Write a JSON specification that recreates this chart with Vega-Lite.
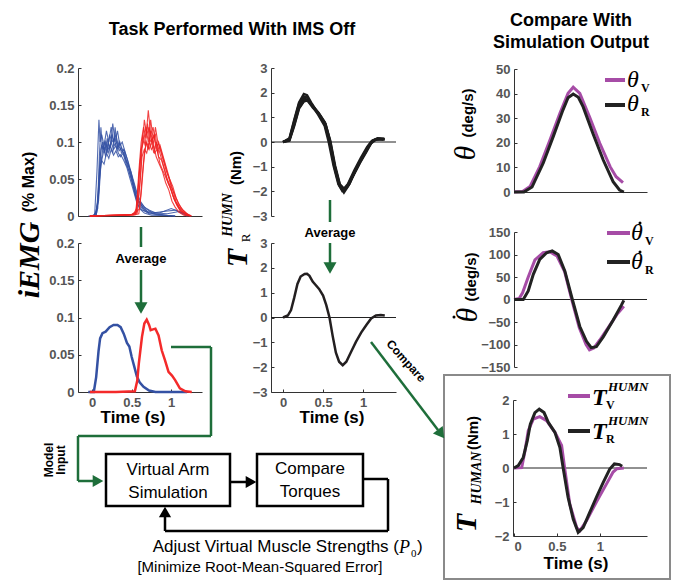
{
"$schema": "https://vega.github.io/schema/vega-lite/v6.json",
"width": 682, "height": 582, "padding": 0, "autosize": "none",
"background": "white",
"config": {"view": {"stroke": null},
  "axis": {"labelFont": "Liberation Sans", "labelFontWeight": "bold", "labelFontSize": 13, "labelColor": "#555555", "domainColor": "#333333", "tickColor": "#333333", "tickSize": -3, "labelPadding": 7, "grid": false},
  "text": {"font": "Liberation Sans"}},
"datasets": {
"emgRaw": [
{"s":"b1","c":"b","t":-0.05,"v":0},{"s":"b1","c":"b","t":0.03,"v":0},{"s":"b1","c":"b","t":0.06,"v":0.06},{"s":"b1","c":"b","t":0.085,"v":0.13},{"s":"b1","c":"b","t":0.1,"v":0.1},{"s":"b1","c":"b","t":0.12,"v":0.11},{"s":"b1","c":"b","t":0.15,"v":0.095},{"s":"b1","c":"b","t":0.18,"v":0.115},{"s":"b1","c":"b","t":0.21,"v":0.1},{"s":"b1","c":"b","t":0.24,"v":0.12},{"s":"b1","c":"b","t":0.27,"v":0.1},{"s":"b1","c":"b","t":0.3,"v":0.11},{"s":"b1","c":"b","t":0.33,"v":0.095},{"s":"b1","c":"b","t":0.36,"v":0.09},{"s":"b1","c":"b","t":0.4,"v":0.085},{"s":"b1","c":"b","t":0.44,"v":0.07},{"s":"b1","c":"b","t":0.48,"v":0.055},{"s":"b1","c":"b","t":0.52,"v":0.04},{"s":"b1","c":"b","t":0.56,"v":0.025},{"s":"b1","c":"b","t":0.6,"v":0.018},{"s":"b1","c":"b","t":0.65,"v":0.01},{"s":"b1","c":"b","t":0.72,"v":0.004},{"s":"b1","c":"b","t":0.85,"v":0.002},{"s":"b1","c":"b","t":1.0,"v":0},
{"s":"b2","c":"b","t":-0.02,"v":0},{"s":"b2","c":"b","t":0.05,"v":0},{"s":"b2","c":"b","t":0.08,"v":0.03},{"s":"b2","c":"b","t":0.1,"v":0.06},{"s":"b2","c":"b","t":0.12,"v":0.075},{"s":"b2","c":"b","t":0.15,"v":0.07},{"s":"b2","c":"b","t":0.18,"v":0.085},{"s":"b2","c":"b","t":0.21,"v":0.078},{"s":"b2","c":"b","t":0.24,"v":0.09},{"s":"b2","c":"b","t":0.27,"v":0.082},{"s":"b2","c":"b","t":0.3,"v":0.088},{"s":"b2","c":"b","t":0.33,"v":0.08},{"s":"b2","c":"b","t":0.36,"v":0.083},{"s":"b2","c":"b","t":0.4,"v":0.075},{"s":"b2","c":"b","t":0.44,"v":0.065},{"s":"b2","c":"b","t":0.48,"v":0.05},{"s":"b2","c":"b","t":0.52,"v":0.035},{"s":"b2","c":"b","t":0.56,"v":0.02},{"s":"b2","c":"b","t":0.6,"v":0.01},{"s":"b2","c":"b","t":0.66,"v":0.004},{"s":"b2","c":"b","t":0.75,"v":0.001},{"s":"b2","c":"b","t":1.05,"v":0},
{"s":"b3","c":"b","t":0.0,"v":0},{"s":"b3","c":"b","t":0.06,"v":0.005},{"s":"b3","c":"b","t":0.09,"v":0.05},{"s":"b3","c":"b","t":0.11,"v":0.09},{"s":"b3","c":"b","t":0.13,"v":0.1},{"s":"b3","c":"b","t":0.16,"v":0.085},{"s":"b3","c":"b","t":0.19,"v":0.105},{"s":"b3","c":"b","t":0.22,"v":0.09},{"s":"b3","c":"b","t":0.25,"v":0.11},{"s":"b3","c":"b","t":0.28,"v":0.095},{"s":"b3","c":"b","t":0.31,"v":0.1},{"s":"b3","c":"b","t":0.34,"v":0.088},{"s":"b3","c":"b","t":0.37,"v":0.092},{"s":"b3","c":"b","t":0.41,"v":0.08},{"s":"b3","c":"b","t":0.45,"v":0.07},{"s":"b3","c":"b","t":0.49,"v":0.06},{"s":"b3","c":"b","t":0.53,"v":0.045},{"s":"b3","c":"b","t":0.57,"v":0.03},{"s":"b3","c":"b","t":0.61,"v":0.02},{"s":"b3","c":"b","t":0.66,"v":0.012},{"s":"b3","c":"b","t":0.72,"v":0.008},{"s":"b3","c":"b","t":0.8,"v":0.004},{"s":"b3","c":"b","t":0.95,"v":0.003},{"s":"b3","c":"b","t":1.1,"v":0.006},{"s":"b3","c":"b","t":1.22,"v":0},
{"s":"b4","c":"b","t":0.02,"v":0},{"s":"b4","c":"b","t":0.07,"v":0.01},{"s":"b4","c":"b","t":0.1,"v":0.065},{"s":"b4","c":"b","t":0.12,"v":0.08},{"s":"b4","c":"b","t":0.14,"v":0.095},{"s":"b4","c":"b","t":0.17,"v":0.08},{"s":"b4","c":"b","t":0.2,"v":0.1},{"s":"b4","c":"b","t":0.23,"v":0.092},{"s":"b4","c":"b","t":0.26,"v":0.125},{"s":"b4","c":"b","t":0.29,"v":0.1},{"s":"b4","c":"b","t":0.32,"v":0.115},{"s":"b4","c":"b","t":0.35,"v":0.095},{"s":"b4","c":"b","t":0.38,"v":0.1},{"s":"b4","c":"b","t":0.42,"v":0.085},{"s":"b4","c":"b","t":0.46,"v":0.07},{"s":"b4","c":"b","t":0.5,"v":0.05},{"s":"b4","c":"b","t":0.54,"v":0.03},{"s":"b4","c":"b","t":0.58,"v":0.015},{"s":"b4","c":"b","t":0.63,"v":0.008},{"s":"b4","c":"b","t":0.7,"v":0.005},{"s":"b4","c":"b","t":0.8,"v":0.003},{"s":"b4","c":"b","t":0.95,"v":0.001},{"s":"b4","c":"b","t":1.05,"v":0},
{"s":"b5","c":"b","t":0.03,"v":0},{"s":"b5","c":"b","t":0.08,"v":0.02},{"s":"b5","c":"b","t":0.11,"v":0.07},{"s":"b5","c":"b","t":0.14,"v":0.085},{"s":"b5","c":"b","t":0.17,"v":0.1},{"s":"b5","c":"b","t":0.2,"v":0.09},{"s":"b5","c":"b","t":0.23,"v":0.095},{"s":"b5","c":"b","t":0.26,"v":0.085},{"s":"b5","c":"b","t":0.29,"v":0.12},{"s":"b5","c":"b","t":0.32,"v":0.09},{"s":"b5","c":"b","t":0.35,"v":0.1},{"s":"b5","c":"b","t":0.38,"v":0.09},{"s":"b5","c":"b","t":0.41,"v":0.088},{"s":"b5","c":"b","t":0.45,"v":0.075},{"s":"b5","c":"b","t":0.49,"v":0.06},{"s":"b5","c":"b","t":0.53,"v":0.04},{"s":"b5","c":"b","t":0.57,"v":0.022},{"s":"b5","c":"b","t":0.61,"v":0.018},{"s":"b5","c":"b","t":0.68,"v":0.01},{"s":"b5","c":"b","t":0.76,"v":0.004},{"s":"b5","c":"b","t":0.9,"v":0.006},{"s":"b5","c":"b","t":1.05,"v":0.008},{"s":"b5","c":"b","t":1.2,"v":0},
{"s":"b6","c":"b","t":0.04,"v":0},{"s":"b6","c":"b","t":0.07,"v":0.02},{"s":"b6","c":"b","t":0.09,"v":0.08},{"s":"b6","c":"b","t":0.11,"v":0.12},{"s":"b6","c":"b","t":0.13,"v":0.09},{"s":"b6","c":"b","t":0.16,"v":0.1},{"s":"b6","c":"b","t":0.19,"v":0.085},{"s":"b6","c":"b","t":0.22,"v":0.11},{"s":"b6","c":"b","t":0.25,"v":0.1},{"s":"b6","c":"b","t":0.28,"v":0.105},{"s":"b6","c":"b","t":0.31,"v":0.09},{"s":"b6","c":"b","t":0.34,"v":0.1},{"s":"b6","c":"b","t":0.37,"v":0.085},{"s":"b6","c":"b","t":0.4,"v":0.09},{"s":"b6","c":"b","t":0.43,"v":0.075},{"s":"b6","c":"b","t":0.47,"v":0.065},{"s":"b6","c":"b","t":0.51,"v":0.05},{"s":"b6","c":"b","t":0.55,"v":0.035},{"s":"b6","c":"b","t":0.59,"v":0.02},{"s":"b6","c":"b","t":0.64,"v":0.012},{"s":"b6","c":"b","t":0.7,"v":0.006},{"s":"b6","c":"b","t":0.85,"v":0.004},{"s":"b6","c":"b","t":1.0,"v":0.01},{"s":"b6","c":"b","t":1.15,"v":0.004},{"s":"b6","c":"b","t":1.25,"v":0},
{"s":"b7","c":"b","t":0.05,"v":0},{"s":"b7","c":"b","t":0.08,"v":0.04},{"s":"b7","c":"b","t":0.1,"v":0.08},{"s":"b7","c":"b","t":0.12,"v":0.095},{"s":"b7","c":"b","t":0.15,"v":0.09},{"s":"b7","c":"b","t":0.18,"v":0.095},{"s":"b7","c":"b","t":0.21,"v":0.085},{"s":"b7","c":"b","t":0.24,"v":0.1},{"s":"b7","c":"b","t":0.27,"v":0.09},{"s":"b7","c":"b","t":0.3,"v":0.095},{"s":"b7","c":"b","t":0.33,"v":0.085},{"s":"b7","c":"b","t":0.36,"v":0.08},{"s":"b7","c":"b","t":0.39,"v":0.085},{"s":"b7","c":"b","t":0.43,"v":0.07},{"s":"b7","c":"b","t":0.47,"v":0.06},{"s":"b7","c":"b","t":0.51,"v":0.045},{"s":"b7","c":"b","t":0.55,"v":0.028},{"s":"b7","c":"b","t":0.6,"v":0.015},{"s":"b7","c":"b","t":0.65,"v":0.008},{"s":"b7","c":"b","t":0.72,"v":0.003},{"s":"b7","c":"b","t":0.9,"v":0.001},{"s":"b7","c":"b","t":1.05,"v":0},
{"s":"r1","c":"r","t":-0.03,"v":0},{"s":"r1","c":"r","t":0.4,"v":0.001},{"s":"r1","c":"r","t":0.52,"v":0.002},{"s":"r1","c":"r","t":0.56,"v":0.01},{"s":"r1","c":"r","t":0.59,"v":0.06},{"s":"r1","c":"r","t":0.62,"v":0.1},{"s":"r1","c":"r","t":0.65,"v":0.12},{"s":"r1","c":"r","t":0.68,"v":0.105},{"s":"r1","c":"r","t":0.71,"v":0.143},{"s":"r1","c":"r","t":0.74,"v":0.11},{"s":"r1","c":"r","t":0.77,"v":0.12},{"s":"r1","c":"r","t":0.8,"v":0.1},{"s":"r1","c":"r","t":0.83,"v":0.095},{"s":"r1","c":"r","t":0.87,"v":0.08},{"s":"r1","c":"r","t":0.91,"v":0.065},{"s":"r1","c":"r","t":0.95,"v":0.05},{"s":"r1","c":"r","t":0.99,"v":0.04},{"s":"r1","c":"r","t":1.03,"v":0.025},{"s":"r1","c":"r","t":1.07,"v":0.015},{"s":"r1","c":"r","t":1.12,"v":0.006},{"s":"r1","c":"r","t":1.18,"v":0.002},{"s":"r1","c":"r","t":1.25,"v":0},
{"s":"r2","c":"r","t":-0.03,"v":0},{"s":"r2","c":"r","t":0.45,"v":0.001},{"s":"r2","c":"r","t":0.55,"v":0.002},{"s":"r2","c":"r","t":0.58,"v":0.02},{"s":"r2","c":"r","t":0.61,"v":0.05},{"s":"r2","c":"r","t":0.63,"v":0.08},{"s":"r2","c":"r","t":0.66,"v":0.09},{"s":"r2","c":"r","t":0.69,"v":0.085},{"s":"r2","c":"r","t":0.72,"v":0.1},{"s":"r2","c":"r","t":0.75,"v":0.09},{"s":"r2","c":"r","t":0.78,"v":0.095},{"s":"r2","c":"r","t":0.81,"v":0.08},{"s":"r2","c":"r","t":0.85,"v":0.07},{"s":"r2","c":"r","t":0.89,"v":0.06},{"s":"r2","c":"r","t":0.93,"v":0.045},{"s":"r2","c":"r","t":0.97,"v":0.035},{"s":"r2","c":"r","t":1.01,"v":0.02},{"s":"r2","c":"r","t":1.05,"v":0.012},{"s":"r2","c":"r","t":1.1,"v":0.005},{"s":"r2","c":"r","t":1.16,"v":0.001},{"s":"r2","c":"r","t":1.22,"v":0},
{"s":"r3","c":"r","t":-0.03,"v":0},{"s":"r3","c":"r","t":0.5,"v":0.002},{"s":"r3","c":"r","t":0.57,"v":0.004},{"s":"r3","c":"r","t":0.6,"v":0.04},{"s":"r3","c":"r","t":0.63,"v":0.09},{"s":"r3","c":"r","t":0.66,"v":0.13},{"s":"r3","c":"r","t":0.69,"v":0.11},{"s":"r3","c":"r","t":0.72,"v":0.12},{"s":"r3","c":"r","t":0.75,"v":0.1},{"s":"r3","c":"r","t":0.78,"v":0.11},{"s":"r3","c":"r","t":0.81,"v":0.09},{"s":"r3","c":"r","t":0.84,"v":0.1},{"s":"r3","c":"r","t":0.88,"v":0.085},{"s":"r3","c":"r","t":0.92,"v":0.07},{"s":"r3","c":"r","t":0.96,"v":0.055},{"s":"r3","c":"r","t":1.0,"v":0.04},{"s":"r3","c":"r","t":1.04,"v":0.03},{"s":"r3","c":"r","t":1.08,"v":0.02},{"s":"r3","c":"r","t":1.13,"v":0.01},{"s":"r3","c":"r","t":1.2,"v":0.003},{"s":"r3","c":"r","t":1.26,"v":0},
{"s":"r4","c":"r","t":-0.03,"v":0},{"s":"r4","c":"r","t":0.52,"v":0.001},{"s":"r4","c":"r","t":0.59,"v":0.003},{"s":"r4","c":"r","t":0.62,"v":0.03},{"s":"r4","c":"r","t":0.65,"v":0.07},{"s":"r4","c":"r","t":0.68,"v":0.1},{"s":"r4","c":"r","t":0.71,"v":0.09},{"s":"r4","c":"r","t":0.74,"v":0.115},{"s":"r4","c":"r","t":0.77,"v":0.095},{"s":"r4","c":"r","t":0.8,"v":0.12},{"s":"r4","c":"r","t":0.83,"v":0.1},{"s":"r4","c":"r","t":0.86,"v":0.09},{"s":"r4","c":"r","t":0.9,"v":0.075},{"s":"r4","c":"r","t":0.94,"v":0.06},{"s":"r4","c":"r","t":0.98,"v":0.05},{"s":"r4","c":"r","t":1.02,"v":0.035},{"s":"r4","c":"r","t":1.06,"v":0.02},{"s":"r4","c":"r","t":1.1,"v":0.012},{"s":"r4","c":"r","t":1.15,"v":0.006},{"s":"r4","c":"r","t":1.22,"v":0.001},
{"s":"r5","c":"r","t":-0.03,"v":0},{"s":"r5","c":"r","t":0.5,"v":0.002},{"s":"r5","c":"r","t":0.55,"v":0.005},{"s":"r5","c":"r","t":0.58,"v":0.035},{"s":"r5","c":"r","t":0.61,"v":0.075},{"s":"r5","c":"r","t":0.64,"v":0.11},{"s":"r5","c":"r","t":0.67,"v":0.095},{"s":"r5","c":"r","t":0.7,"v":0.125},{"s":"r5","c":"r","t":0.73,"v":0.1},{"s":"r5","c":"r","t":0.76,"v":0.105},{"s":"r5","c":"r","t":0.79,"v":0.085},{"s":"r5","c":"r","t":0.82,"v":0.09},{"s":"r5","c":"r","t":0.86,"v":0.07},{"s":"r5","c":"r","t":0.9,"v":0.06},{"s":"r5","c":"r","t":0.94,"v":0.05},{"s":"r5","c":"r","t":0.98,"v":0.04},{"s":"r5","c":"r","t":1.02,"v":0.028},{"s":"r5","c":"r","t":1.06,"v":0.018},{"s":"r5","c":"r","t":1.11,"v":0.008},{"s":"r5","c":"r","t":1.17,"v":0.003},{"s":"r5","c":"r","t":1.24,"v":0},
{"s":"r6","c":"r","t":-0.03,"v":0},{"s":"r6","c":"r","t":0.5,"v":0.002},{"s":"r6","c":"r","t":0.56,"v":0.006},{"s":"r6","c":"r","t":0.59,"v":0.05},{"s":"r6","c":"r","t":0.62,"v":0.09},{"s":"r6","c":"r","t":0.65,"v":0.1},{"s":"r6","c":"r","t":0.68,"v":0.12},{"s":"r6","c":"r","t":0.71,"v":0.1},{"s":"r6","c":"r","t":0.74,"v":0.13},{"s":"r6","c":"r","t":0.77,"v":0.105},{"s":"r6","c":"r","t":0.8,"v":0.11},{"s":"r6","c":"r","t":0.83,"v":0.085},{"s":"r6","c":"r","t":0.86,"v":0.095},{"s":"r6","c":"r","t":0.9,"v":0.08},{"s":"r6","c":"r","t":0.94,"v":0.065},{"s":"r6","c":"r","t":0.98,"v":0.05},{"s":"r6","c":"r","t":1.02,"v":0.04},{"s":"r6","c":"r","t":1.06,"v":0.025},{"s":"r6","c":"r","t":1.1,"v":0.015},{"s":"r6","c":"r","t":1.15,"v":0.008},{"s":"r6","c":"r","t":1.21,"v":0.002},{"s":"r6","c":"r","t":1.25,"v":0},
{"s":"r7","c":"r","t":-0.03,"v":0},{"s":"r7","c":"r","t":0.53,"v":0.002},{"s":"r7","c":"r","t":0.6,"v":0.01},{"s":"r7","c":"r","t":0.63,"v":0.05},{"s":"r7","c":"r","t":0.66,"v":0.085},{"s":"r7","c":"r","t":0.69,"v":0.1},{"s":"r7","c":"r","t":0.72,"v":0.09},{"s":"r7","c":"r","t":0.75,"v":0.1},{"s":"r7","c":"r","t":0.78,"v":0.085},{"s":"r7","c":"r","t":0.81,"v":0.1},{"s":"r7","c":"r","t":0.84,"v":0.08},{"s":"r7","c":"r","t":0.88,"v":0.075},{"s":"r7","c":"r","t":0.92,"v":0.06},{"s":"r7","c":"r","t":0.96,"v":0.045},{"s":"r7","c":"r","t":1.0,"v":0.035},{"s":"r7","c":"r","t":1.04,"v":0.022},{"s":"r7","c":"r","t":1.08,"v":0.015},{"s":"r7","c":"r","t":1.13,"v":0.007},{"s":"r7","c":"r","t":1.19,"v":0.002},{"s":"r7","c":"r","t":1.24,"v":0}
],
"emgAvg": [
{"c":"b","t":-0.05,"v":0},{"c":"b","t":0.02,"v":0},{"c":"b","t":0.05,"v":0.02},{"c":"b","t":0.08,"v":0.055},{"c":"b","t":0.1,"v":0.072},{"c":"b","t":0.13,"v":0.079},{"c":"b","t":0.17,"v":0.081},{"c":"b","t":0.22,"v":0.087},{"c":"b","t":0.27,"v":0.09},{"c":"b","t":0.32,"v":0.09},{"c":"b","t":0.36,"v":0.087},{"c":"b","t":0.4,"v":0.078},{"c":"b","t":0.44,"v":0.066},{"c":"b","t":0.47,"v":0.061},{"c":"b","t":0.5,"v":0.047},{"c":"b","t":0.53,"v":0.035},{"c":"b","t":0.565,"v":0.021},{"c":"b","t":0.6,"v":0.013},{"c":"b","t":0.65,"v":0.007},{"c":"b","t":0.72,"v":0.002},{"c":"b","t":0.8,"v":0},{"c":"b","t":1.0,"v":0},{"c":"b","t":1.2,"v":0},
{"c":"r","t":-0.03,"v":0},{"c":"r","t":0.3,"v":0},{"c":"r","t":0.54,"v":0.001},{"c":"r","t":0.57,"v":0.015},{"c":"r","t":0.59,"v":0.038},{"c":"r","t":0.63,"v":0.074},{"c":"r","t":0.66,"v":0.092},{"c":"r","t":0.69,"v":0.097},{"c":"r","t":0.72,"v":0.09},{"c":"r","t":0.74,"v":0.083},{"c":"r","t":0.77,"v":0.084},{"c":"r","t":0.8,"v":0.085},{"c":"r","t":0.84,"v":0.076},{"c":"r","t":0.88,"v":0.056},{"c":"r","t":0.92,"v":0.043},{"c":"r","t":0.966,"v":0.027},{"c":"r","t":1.01,"v":0.022},{"c":"r","t":1.05,"v":0.016},{"c":"r","t":1.11,"v":0.005},{"c":"r","t":1.18,"v":0.001},{"c":"r","t":1.26,"v":0}
],
"trqRaw": [
{"s":"a","t":0,"v":0},{"s":"a","t":0.08,"v":0.15},{"s":"a","t":0.14,"v":0.9},{"s":"a","t":0.2,"v":1.6},{"s":"a","t":0.26,"v":1.95},{"s":"a","t":0.3,"v":1.9},{"s":"a","t":0.36,"v":1.55},{"s":"a","t":0.44,"v":1.15},{"s":"a","t":0.52,"v":0.7},{"s":"a","t":0.58,"v":0.05},{"s":"a","t":0.64,"v":-1.0},{"s":"a","t":0.7,"v":-1.75},{"s":"a","t":0.76,"v":-2.05},{"s":"a","t":0.82,"v":-1.75},{"s":"a","t":0.9,"v":-1.2},{"s":"a","t":0.98,"v":-0.7},{"s":"a","t":1.06,"v":-0.25},{"s":"a","t":1.12,"v":0.05},{"s":"a","t":1.18,"v":0.15},{"s":"a","t":1.26,"v":0.12},
{"s":"b","t":0,"v":0},{"s":"b","t":0.08,"v":0.1},{"s":"b","t":0.14,"v":0.75},{"s":"b","t":0.2,"v":1.45},{"s":"b","t":0.26,"v":1.75},{"s":"b","t":0.3,"v":1.72},{"s":"b","t":0.36,"v":1.5},{"s":"b","t":0.44,"v":1.2},{"s":"b","t":0.52,"v":0.8},{"s":"b","t":0.58,"v":0.1},{"s":"b","t":0.64,"v":-0.9},{"s":"b","t":0.7,"v":-1.7},{"s":"b","t":0.75,"v":-1.95},{"s":"b","t":0.8,"v":-1.8},{"s":"b","t":0.88,"v":-1.3},{"s":"b","t":0.96,"v":-0.8},{"s":"b","t":1.04,"v":-0.35},{"s":"b","t":1.1,"v":0},{"s":"b","t":1.17,"v":0.12},{"s":"b","t":1.25,"v":0.1},
{"s":"c","t":0,"v":0},{"s":"c","t":0.08,"v":0.05},{"s":"c","t":0.14,"v":0.65},{"s":"c","t":0.2,"v":1.35},{"s":"c","t":0.26,"v":1.65},{"s":"c","t":0.31,"v":1.68},{"s":"c","t":0.37,"v":1.45},{"s":"c","t":0.45,"v":1.15},{"s":"c","t":0.53,"v":0.75},{"s":"c","t":0.59,"v":0.0},{"s":"c","t":0.65,"v":-1.05},{"s":"c","t":0.71,"v":-1.75},{"s":"c","t":0.76,"v":-1.9},{"s":"c","t":0.81,"v":-1.7},{"s":"c","t":0.89,"v":-1.15},{"s":"c","t":0.97,"v":-0.65},{"s":"c","t":1.05,"v":-0.2},{"s":"c","t":1.11,"v":0.05},{"s":"c","t":1.18,"v":0.12},{"s":"c","t":1.27,"v":0.1},
{"s":"d","t":0,"v":0},{"s":"d","t":0.08,"v":0.12},{"s":"d","t":0.14,"v":0.85},{"s":"d","t":0.2,"v":1.55},{"s":"d","t":0.26,"v":1.85},{"s":"d","t":0.3,"v":1.8},{"s":"d","t":0.36,"v":1.5},{"s":"d","t":0.44,"v":1.1},{"s":"d","t":0.52,"v":0.65},{"s":"d","t":0.57,"v":0.0},{"s":"d","t":0.63,"v":-0.95},{"s":"d","t":0.69,"v":-1.7},{"s":"d","t":0.74,"v":-1.98},{"s":"d","t":0.8,"v":-1.82},{"s":"d","t":0.88,"v":-1.35},{"s":"d","t":0.96,"v":-0.85},{"s":"d","t":1.04,"v":-0.4},{"s":"d","t":1.1,"v":-0.05},{"s":"d","t":1.16,"v":0.1},{"s":"d","t":1.26,"v":0.12},
{"s":"e","t":0,"v":0},{"s":"e","t":0.08,"v":0.08},{"s":"e","t":0.14,"v":0.7},{"s":"e","t":0.2,"v":1.4},{"s":"e","t":0.27,"v":1.7},{"s":"e","t":0.31,"v":1.66},{"s":"e","t":0.37,"v":1.4},{"s":"e","t":0.45,"v":1.12},{"s":"e","t":0.53,"v":0.72},{"s":"e","t":0.59,"v":0.05},{"s":"e","t":0.65,"v":-0.95},{"s":"e","t":0.71,"v":-1.72},{"s":"e","t":0.77,"v":-1.93},{"s":"e","t":0.83,"v":-1.7},{"s":"e","t":0.91,"v":-1.1},{"s":"e","t":0.99,"v":-0.6},{"s":"e","t":1.07,"v":-0.15},{"s":"e","t":1.13,"v":0.08},{"s":"e","t":1.2,"v":0.14},{"s":"e","t":1.27,"v":0.12}
],
"trqAvg": [
{"t":0,"v":0},{"t":0.06,"v":0.08},{"t":0.1,"v":0.3},{"t":0.14,"v":0.8},{"t":0.18,"v":1.35},{"t":0.22,"v":1.65},{"t":0.27,"v":1.75},{"t":0.3,"v":1.76},{"t":0.33,"v":1.68},{"t":0.37,"v":1.45},{"t":0.41,"v":1.3},{"t":0.45,"v":1.15},{"t":0.5,"v":0.88},{"t":0.54,"v":0.5},{"t":0.58,"v":0},{"t":0.62,"v":-0.75},{"t":0.66,"v":-1.42},{"t":0.7,"v":-1.78},{"t":0.745,"v":-1.92},{"t":0.79,"v":-1.78},{"t":0.85,"v":-1.38},{"t":0.91,"v":-0.98},{"t":0.975,"v":-0.61},{"t":1.04,"v":-0.3},{"t":1.1,"v":-0.04},{"t":1.16,"v":0.08},{"t":1.22,"v":0.1},{"t":1.27,"v":0.08}
],
"theta": [
{"c":"V","t":0,"v":0},{"c":"V","t":0.1,"v":0.2},{"c":"V","t":0.186,"v":2.2},{"c":"V","t":0.3,"v":10.3},{"c":"V","t":0.42,"v":21.2},{"c":"V","t":0.535,"v":32},{"c":"V","t":0.63,"v":40.1},{"c":"V","t":0.69,"v":42.6},{"c":"V","t":0.767,"v":40.1},{"c":"V","t":0.88,"v":30.6},{"c":"V","t":1.0,"v":19.8},{"c":"V","t":1.12,"v":10.3},{"c":"V","t":1.19,"v":6.2},{"c":"V","t":1.27,"v":3.8},
{"c":"R","t":0,"v":0},{"c":"R","t":0.116,"v":0},{"c":"R","t":0.21,"v":2},{"c":"R","t":0.34,"v":11.7},{"c":"R","t":0.457,"v":22.5},{"c":"R","t":0.57,"v":33.3},{"c":"R","t":0.63,"v":38.3},{"c":"R","t":0.69,"v":39.8},{"c":"R","t":0.75,"v":38.5},{"c":"R","t":0.806,"v":34.6},{"c":"R","t":0.92,"v":23.8},{"c":"R","t":1.04,"v":13},{"c":"R","t":1.155,"v":4.2},{"c":"R","t":1.23,"v":0.8},{"c":"R","t":1.28,"v":0}
],
"thetaDot": [
{"c":"V","t":0,"v":0},{"c":"V","t":0.06,"v":2},{"c":"V","t":0.1,"v":15},{"c":"V","t":0.166,"v":50},{"c":"V","t":0.244,"v":88},{"c":"V","t":0.34,"v":104},{"c":"V","t":0.415,"v":106},{"c":"V","t":0.5,"v":97},{"c":"V","t":0.59,"v":62},{"c":"V","t":0.67,"v":2},{"c":"V","t":0.76,"v":-62},{"c":"V","t":0.84,"v":-100},{"c":"V","t":0.88,"v":-112},{"c":"V","t":0.93,"v":-108},{"c":"V","t":1.0,"v":-90},{"c":"V","t":1.1,"v":-62},{"c":"V","t":1.2,"v":-33},{"c":"V","t":1.28,"v":-15},
{"c":"R","t":0,"v":0},{"c":"R","t":0.108,"v":0},{"c":"R","t":0.166,"v":19},{"c":"R","t":0.225,"v":56},{"c":"R","t":0.3,"v":89},{"c":"R","t":0.38,"v":104},{"c":"R","t":0.445,"v":108},{"c":"R","t":0.515,"v":100},{"c":"R","t":0.593,"v":63},{"c":"R","t":0.68,"v":0},{"c":"R","t":0.767,"v":-60},{"c":"R","t":0.845,"v":-93},{"c":"R","t":0.9,"v":-107},{"c":"R","t":0.96,"v":-105},{"c":"R","t":1.04,"v":-83},{"c":"R","t":1.155,"v":-46},{"c":"R","t":1.25,"v":-13},{"c":"R","t":1.28,"v":-2}
],
"trqSim": [
{"c":"V","t":0,"v":0},{"c":"V","t":0.09,"v":0.01},{"c":"V","t":0.128,"v":0.5},{"c":"V","t":0.166,"v":1.1},{"c":"V","t":0.225,"v":1.44},{"c":"V","t":0.3,"v":1.51},{"c":"V","t":0.38,"v":1.39},{"c":"V","t":0.477,"v":1.05},{"c":"V","t":0.555,"v":0.66},{"c":"V","t":0.59,"v":0},{"c":"V","t":0.65,"v":-1.06},{"c":"V","t":0.73,"v":-1.75},{"c":"V","t":0.767,"v":-1.85},{"c":"V","t":0.845,"v":-1.55},{"c":"V","t":0.96,"v":-1.0},{"c":"V","t":1.08,"v":-0.46},{"c":"V","t":1.155,"v":-0.12},{"c":"V","t":1.2,"v":-0.02},{"c":"V","t":1.28,"v":0},
{"c":"R","t":0,"v":0},{"c":"R","t":0.05,"v":0.07},{"c":"R","t":0.108,"v":0.31},{"c":"R","t":0.155,"v":0.8},{"c":"R","t":0.19,"v":1.29},{"c":"R","t":0.244,"v":1.63},{"c":"R","t":0.294,"v":1.73},{"c":"R","t":0.35,"v":1.63},{"c":"R","t":0.4,"v":1.34},{"c":"R","t":0.477,"v":1.05},{"c":"R","t":0.535,"v":0.6},{"c":"R","t":0.573,"v":0},{"c":"R","t":0.63,"v":-0.86},{"c":"R","t":0.69,"v":-1.5},{"c":"R","t":0.748,"v":-1.89},{"c":"R","t":0.806,"v":-1.75},{"c":"R","t":0.884,"v":-1.3},{"c":"R","t":0.96,"v":-0.86},{"c":"R","t":1.04,"v":-0.42},{"c":"R","t":1.116,"v":-0.03},{"c":"R","t":1.17,"v":0.12},{"c":"R","t":1.23,"v":0.1},{"c":"R","t":1.26,"v":0.05}
]
},
"layer": [
{
 "data": {"name": "emgRaw"},
 "mark": {"type": "line", "strokeWidth": 1.1, "opacity": 0.85},
 "encoding": {
  "x": {"field": "t", "type": "quantitative", "scale": {"domain": [-0.18, 1.39], "range": [78, 202], "nice": false, "zero": false}, "axis": {"orient": "bottom", "offset": -366, "labels": false, "ticks": false, "title": null}},
  "y": {"field": "v", "type": "quantitative", "scale": {"domain": [0, 0.2], "range": [216, 68], "nice": false, "zero": false}, "axis": {"orient": "left", "offset": -78, "values": [0, 0.05, 0.1, 0.15, 0.2], "format": "~g", "title": null}},
  "color": {"field": "c", "type": "nominal", "scale": {"domain": ["b", "r"], "range": ["#3451a3", "#ee2222"]}, "legend": null},
  "detail": {"field": "s", "type": "nominal"}
 }
},
{
 "data": {"name": "emgAvg"},
 "mark": {"type": "line", "strokeWidth": 2.5},
 "encoding": {
  "x": {"field": "t", "type": "quantitative", "scale": {"domain": [-0.18, 1.39], "range": [78, 202], "nice": false, "zero": false}, "axis": {"orient": "bottom", "offset": -190, "values": [0, 0.5, 1], "format": "~g", "title": null}},
  "y": {"field": "v", "type": "quantitative", "scale": {"domain": [0, 0.2], "range": [392, 243], "nice": false, "zero": false}, "axis": {"orient": "left", "offset": -78, "values": [0, 0.05, 0.1, 0.15, 0.2], "format": "~g", "title": null}},
  "color": {"field": "c", "type": "nominal", "scale": {"domain": ["b", "r"], "range": ["#3451a3", "#f42a2a"]}, "legend": null}
 }
},
{
 "layer": [
  {"data": {"values": [{}]}, "mark": {"type": "rule", "color": "#222222", "strokeWidth": 1},
   "encoding": {"x": {"datum": -0.15, "type": "quantitative"}, "x2": {"datum": 1.41}, "y": {"datum": 0, "type": "quantitative"}}},
  {"data": {"name": "trqRaw"}, "mark": {"type": "line", "strokeWidth": 2.4, "color": "#1c1c1c"},
   "encoding": {"x": {"field": "t", "type": "quantitative"}, "y": {"field": "v", "type": "quantitative"}, "detail": {"field": "s", "type": "nominal"}}}
 ],
 "encoding": {
  "x": {"type": "quantitative", "scale": {"domain": [-0.15, 1.41], "range": [271, 396], "nice": false, "zero": false}, "axis": null},
  "y": {"type": "quantitative", "scale": {"domain": [-3, 3], "range": [216, 68], "nice": false, "zero": false}, "axis": {"orient": "left", "offset": -271, "values": [-3, -2, -1, 0, 1, 2, 3], "format": "~g", "title": null}}
 }
},
{
 "layer": [
  {"data": {"values": [{}]}, "mark": {"type": "rule", "color": "#222222", "strokeWidth": 1},
   "encoding": {"x": {"datum": -0.15, "type": "quantitative"}, "x2": {"datum": 1.41}, "y": {"datum": 0, "type": "quantitative"}}},
  {"data": {"name": "trqAvg"}, "mark": {"type": "line", "strokeWidth": 2.5, "color": "#231f20"},
   "encoding": {"x": {"field": "t", "type": "quantitative"}, "y": {"field": "v", "type": "quantitative"}}}
 ],
 "encoding": {
  "x": {"type": "quantitative", "scale": {"domain": [-0.15, 1.41], "range": [271, 396], "nice": false, "zero": false}, "axis": {"orient": "bottom", "offset": -190, "values": [0, 0.5, 1], "format": "~g", "title": null}},
  "y": {"type": "quantitative", "scale": {"domain": [-3, 3], "range": [392, 243], "nice": false, "zero": false}, "axis": {"orient": "left", "offset": -271, "values": [-3, -2, -1, 0, 1, 2, 3], "format": "~g", "title": null}}
 }
},
{
 "data": {"name": "theta"},
 "mark": {"type": "line", "strokeWidth": 3},
 "encoding": {
  "x": {"field": "t", "type": "quantitative", "scale": {"domain": [0, 1.55], "range": [514, 647], "nice": false, "zero": false}, "axis": {"orient": "bottom", "offset": -390, "labels": false, "ticks": false, "title": null}},
  "y": {"field": "v", "type": "quantitative", "scale": {"domain": [0, 50], "range": [192, 69], "nice": false, "zero": false}, "axis": {"orient": "left", "offset": -514, "values": [0, 10, 20, 30, 40, 50], "title": null}},
  "color": {"field": "c", "type": "nominal", "scale": {"domain": ["V", "R"], "range": ["#a64ca6", "#222222"]}, "legend": null},
  "order": {"field": "c", "sort": "descending"}
 }
},
{
 "layer": [
  {"data": {"values": [{}]}, "mark": {"type": "rule", "color": "#222222", "strokeWidth": 1},
   "encoding": {"x": {"datum": 0, "type": "quantitative"}, "x2": {"datum": 1.55}, "y": {"datum": 0, "type": "quantitative"}}},
  {"data": {"name": "thetaDot"}, "mark": {"type": "line", "strokeWidth": 3},
   "encoding": {"x": {"field": "t", "type": "quantitative"}, "y": {"field": "v", "type": "quantitative"},
    "color": {"field": "c", "type": "nominal", "scale": {"domain": ["V", "R"], "range": ["#a64ca6", "#222222"]}, "legend": null}}}
 ],
 "encoding": {
  "x": {"type": "quantitative", "scale": {"domain": [0, 1.55], "range": [514, 647], "nice": false, "zero": false}, "axis": null},
  "y": {"type": "quantitative", "scale": {"domain": [-150, 150], "range": [367, 232], "nice": false, "zero": false}, "axis": {"orient": "left", "offset": -514, "values": [-150, -100, -50, 0, 50, 100, 150], "title": null}}
 }
},
{
 "layer": [
  {"data": {"values": [{}]}, "mark": {"type": "rule", "color": "#222222", "strokeWidth": 1},
   "encoding": {"x": {"datum": 0, "type": "quantitative"}, "x2": {"datum": 1.55}, "y": {"datum": 0, "type": "quantitative"}}},
  {"data": {"name": "trqSim"}, "mark": {"type": "line", "strokeWidth": 3},
   "encoding": {"x": {"field": "t", "type": "quantitative"}, "y": {"field": "v", "type": "quantitative"},
    "color": {"field": "c", "type": "nominal", "scale": {"domain": ["V", "R"], "range": ["#a64ca6", "#222222"]}, "legend": null}}}
 ],
 "encoding": {
  "x": {"type": "quantitative", "scale": {"domain": [0, 1.55], "range": [514, 647], "nice": false, "zero": false}, "axis": {"orient": "bottom", "offset": -46, "values": [0, 0.5, 1], "format": "~g", "title": null}},
  "y": {"type": "quantitative", "scale": {"domain": [-2, 2], "range": [536, 400], "nice": false, "zero": false}, "axis": {"orient": "left", "offset": -513, "values": [-2, -1, 0, 1, 2], "title": null}}
 }
},
{
 "encoding": {
  "x": {"field": "x", "type": "quantitative", "scale": {"domain": [0, 682], "range": [0, 682], "nice": false, "zero": false}, "axis": null},
  "y": {"field": "y", "type": "quantitative", "scale": {"domain": [0, 582], "range": [0, 582], "nice": false, "zero": false}, "axis": null}
 },
 "layer": [
  {"data": {"values": [{"x": 444, "y": 375, "x2": 670, "y2": 579}]}, "mark": {"type": "rect", "fill": null, "stroke": "#8a8a8a", "strokeWidth": 2},
   "encoding": {"x2": {"field": "x2"}, "y2": {"field": "y2"}}},
  {"data": {"values": [{"x": 106, "y": 454, "x2": 230, "y2": 506}, {"x": 257, "y": 454, "x2": 363, "y2": 506}]}, "mark": {"type": "rect", "fill": "white", "stroke": "black", "strokeWidth": 2.5},
   "encoding": {"x2": {"field": "x2"}, "y2": {"field": "y2"}}},
  {"data": {"values": [{"x": 141, "y": 227, "x2": 141, "y2": 247}, {"x": 141, "y": 270, "x2": 141, "y2": 304}, {"x": 330, "y": 200, "x2": 330, "y2": 222}, {"x": 330, "y": 243, "x2": 330, "y2": 264},
     {"x": 171, "y": 347, "x2": 211, "y2": 347}, {"x": 211, "y": 347, "x2": 211, "y2": 436}, {"x": 211, "y": 436, "x2": 78, "y2": 436}, {"x": 78, "y": 436, "x2": 78, "y2": 481}, {"x": 78, "y": 481, "x2": 95, "y2": 481},
     {"x": 371, "y": 342, "x2": 438, "y2": 430}]},
   "mark": {"type": "rule", "color": "#1e6e3a", "strokeWidth": 2.5},
   "encoding": {"x2": {"field": "x2"}, "y2": {"field": "y2"}}},
  {"data": {"values": [{"x": 230, "y": 482, "x2": 249, "y2": 482}, {"x": 363, "y": 479, "x2": 388, "y2": 479}, {"x": 388, "y": 479, "x2": 388, "y2": 531}, {"x": 388, "y": 531, "x2": 165, "y2": 531}, {"x": 165, "y": 531, "x2": 165, "y2": 515}]},
   "mark": {"type": "rule", "color": "black", "strokeWidth": 2.5},
   "encoding": {"x2": {"field": "x2"}, "y2": {"field": "y2"}}},
  {"data": {"values": [{"x": 141, "y": 308}, {"x": 330, "y": 268}]}, "mark": {"type": "point", "shape": "triangle-down", "filled": true, "size": 170, "color": "#1e6e3a", "opacity": 1}},
  {"data": {"values": [{"x": 98, "y": 481}]}, "mark": {"type": "point", "shape": "triangle-right", "filled": true, "size": 150, "color": "#1e6e3a", "opacity": 1}},
  {"data": {"values": [{"x": 441, "y": 434}]}, "mark": {"type": "point", "shape": "triangle-down", "filled": true, "size": 150, "color": "#1e6e3a", "opacity": 1, "angle": -37}},
  {"data": {"values": [{"x": 251, "y": 482}]}, "mark": {"type": "point", "shape": "triangle-right", "filled": true, "size": 150, "color": "black", "opacity": 1}},
  {"data": {"values": [{"x": 165, "y": 512}]}, "mark": {"type": "point", "shape": "triangle-up", "filled": true, "size": 150, "color": "black", "opacity": 1}},
  {"data": {"values": [{"x": 605, "y": 80, "x2": 625, "y2": 80}, {"x": 607, "y": 233, "x2": 630, "y2": 233}, {"x": 568, "y": 396, "x2": 590, "y2": 396}]},
   "mark": {"type": "rule", "color": "#a64ca6", "strokeWidth": 4}, "encoding": {"x2": {"field": "x2"}, "y2": {"field": "y2"}}},
  {"data": {"values": [{"x": 605, "y": 105, "x2": 625, "y2": 105}, {"x": 607, "y": 262, "x2": 630, "y2": 262}, {"x": 568, "y": 431, "x2": 590, "y2": 431}]},
   "mark": {"type": "rule", "color": "#222222", "strokeWidth": 4}, "encoding": {"x2": {"field": "x2"}, "y2": {"field": "y2"}}},
  {"data": {"values": [{"x": 640, "y": 223}, {"x": 640, "y": 252}, {"x": 454, "y": 317}]},
   "mark": {"type": "point", "shape": "circle", "filled": true, "size": 9, "color": "black", "opacity": 1}},
  {"data": {"values": [{"x": 232, "y": 30, "txt": "Task Performed With IMS Off"}, {"x": 571, "y": 21, "txt": "Compare With"}, {"x": 571, "y": 43, "txt": "Simulation Output"}]},
   "mark": {"type": "text", "font": "Liberation Sans", "fontWeight": "bold", "fontSize": 18, "align": "center", "baseline": "middle", "color": "black"},
   "encoding": {"text": {"field": "txt"}}},
  {"data": {"values": [{"x": 141, "y": 259, "txt": "Average"}, {"x": 330, "y": 233, "txt": "Average"}]},
   "mark": {"type": "text", "font": "Liberation Sans", "fontWeight": "bold", "fontSize": 13, "align": "center", "baseline": "middle", "color": "black"},
   "encoding": {"text": {"field": "txt"}}},
  {"data": {"values": [{"x": 406, "y": 361, "txt": "Compare"}]},
   "mark": {"type": "text", "font": "Liberation Sans", "fontWeight": "bold", "fontSize": 12, "align": "center", "baseline": "middle", "color": "black", "angle": 48},
   "encoding": {"text": {"field": "txt"}}},
  {"data": {"values": [{"x": 133, "y": 418, "txt": "Time (s)"}, {"x": 332, "y": 418, "txt": "Time (s)"}, {"x": 576, "y": 564, "txt": "Time (s)"}]},
   "mark": {"type": "text", "font": "Liberation Sans", "fontWeight": "bold", "fontSize": 17, "align": "center", "baseline": "middle", "color": "black"},
   "encoding": {"text": {"field": "txt"}}},
  {"data": {"values": [{"x": 168, "y": 470, "txt": "Virtual Arm"}, {"x": 168, "y": 493, "txt": "Simulation"}, {"x": 310, "y": 469, "txt": "Compare"}, {"x": 310, "y": 492, "txt": "Torques"}]},
   "mark": {"type": "text", "font": "Liberation Sans", "fontSize": 17, "align": "center", "baseline": "middle", "color": "black"},
   "encoding": {"text": {"field": "txt"}}},
  {"data": {"values": [{"x": 399, "y": 547, "txt": "Adjust Virtual Muscle Strengths ("}]},
   "mark": {"type": "text", "font": "Liberation Sans", "fontSize": 17, "align": "right", "baseline": "middle", "color": "black"},
   "encoding": {"text": {"field": "txt"}}},
  {"data": {"values": [{"x": 417, "y": 547, "txt": ")"}]},
   "mark": {"type": "text", "font": "Liberation Sans", "fontSize": 17, "align": "left", "baseline": "middle", "color": "black"},
   "encoding": {"text": {"field": "txt"}}},
  {"data": {"values": [{"x": 399, "y": 548, "txt": "P"}]},
   "mark": {"type": "text", "font": "Liberation Serif", "fontStyle": "italic", "fontSize": 18, "align": "left", "baseline": "middle", "color": "black"},
   "encoding": {"text": {"field": "txt"}}},
  {"data": {"values": [{"x": 411, "y": 554, "txt": "0"}]},
   "mark": {"type": "text", "font": "Liberation Serif", "fontSize": 11, "align": "left", "baseline": "middle", "color": "black"},
   "encoding": {"text": {"field": "txt"}}},
  {"data": {"values": [{"x": 260, "y": 567, "txt": "[Minimize Root-Mean-Squared Error]"}]},
   "mark": {"type": "text", "font": "Liberation Sans", "fontSize": 15, "align": "center", "baseline": "middle", "color": "black"},
   "encoding": {"text": {"field": "txt"}}},
  {"data": {"values": [{"x": 49, "y": 460, "txt": ["Model", "Input"]}]},
   "mark": {"type": "text", "font": "Liberation Sans", "fontWeight": "bold", "fontSize": 12, "lineHeight": 12, "align": "center", "baseline": "middle", "color": "black", "angle": 270},
   "encoding": {"text": {"field": "txt"}}},
  {"data": {"values": [{"x": 29, "y": 182, "txt": "(% Max)"}]},
   "mark": {"type": "text", "font": "Liberation Sans", "fontWeight": "bold", "fontSize": 16, "align": "center", "baseline": "middle", "color": "black", "angle": 270},
   "encoding": {"text": {"field": "txt"}}},
  {"data": {"values": [{"x": 236, "y": 168, "txt": "(Nm)"}, {"x": 468, "y": 113, "txt": "(deg/s)"}, {"x": 471, "y": 277, "txt": "(deg/s)"}, {"x": 473, "y": 433, "txt": "(Nm)"}]},
   "mark": {"type": "text", "font": "Liberation Sans", "fontWeight": "bold", "fontSize": 15, "align": "center", "baseline": "middle", "color": "black", "angle": 270},
   "encoding": {"text": {"field": "txt"}}},
  {"data": {"values": [{"x": 30, "y": 260, "txt": "iEMG"}, {"x": 238, "y": 258, "txt": "T"}, {"x": 467, "y": 523, "txt": "T"}]},
   "mark": {"type": "text", "font": "Liberation Serif", "fontWeight": "bold", "fontStyle": "italic", "fontSize": 30, "align": "center", "baseline": "middle", "color": "black", "angle": 270},
   "encoding": {"text": {"field": "txt"}}},
  {"data": {"values": [{"x": 228, "y": 215, "txt": "HUMN"}, {"x": 477, "y": 478, "txt": "HUMAN"}]},
   "mark": {"type": "text", "font": "Liberation Serif", "fontWeight": "bold", "fontStyle": "italic", "fontSize": 14, "align": "center", "baseline": "middle", "color": "black", "angle": 270},
   "encoding": {"text": {"field": "txt"}}},
  {"data": {"values": [{"x": 246, "y": 238, "txt": "R"}]},
   "mark": {"type": "text", "font": "Liberation Serif", "fontSize": 13, "align": "center", "baseline": "middle", "color": "black", "angle": 270},
   "encoding": {"text": {"field": "txt"}}},
  {"data": {"values": [{"x": 466, "y": 153, "txt": "θ"}, {"x": 468, "y": 315, "txt": "θ"}]},
   "mark": {"type": "text", "font": "Liberation Serif", "fontStyle": "italic", "fontSize": 30, "align": "center", "baseline": "middle", "color": "black", "angle": 270},
   "encoding": {"text": {"field": "txt"}}},
  {"data": {"values": [{"x": 627, "y": 80, "txt": "θ"}, {"x": 627, "y": 104, "txt": "θ"}, {"x": 631, "y": 233, "txt": "θ"}, {"x": 631, "y": 262, "txt": "θ"}]},
   "mark": {"type": "text", "font": "Liberation Serif", "fontStyle": "italic", "fontSize": 24, "align": "left", "baseline": "middle", "color": "black"},
   "encoding": {"text": {"field": "txt"}}},
  {"data": {"values": [{"x": 641, "y": 88, "txt": "V"}, {"x": 641, "y": 112, "txt": "R"}, {"x": 645, "y": 241, "txt": "V"}, {"x": 645, "y": 270, "txt": "R"}, {"x": 606, "y": 405, "txt": "V"}, {"x": 606, "y": 439, "txt": "R"}]},
   "mark": {"type": "text", "font": "Liberation Serif", "fontWeight": "bold", "fontSize": 12, "align": "left", "baseline": "middle", "color": "black"},
   "encoding": {"text": {"field": "txt"}}},
  {"data": {"values": [{"x": 592, "y": 398, "txt": "T"}, {"x": 592, "y": 432, "txt": "T"}]},
   "mark": {"type": "text", "font": "Liberation Serif", "fontWeight": "bold", "fontStyle": "italic", "fontSize": 24, "align": "left", "baseline": "middle", "color": "black"},
   "encoding": {"text": {"field": "txt"}}},
  {"data": {"values": [{"x": 608, "y": 387, "txt": "HUMN"}, {"x": 608, "y": 421, "txt": "HUMN"}]},
   "mark": {"type": "text", "font": "Liberation Serif", "fontWeight": "bold", "fontStyle": "italic", "fontSize": 13, "align": "left", "baseline": "middle", "color": "black"},
   "encoding": {"text": {"field": "txt"}}}
 ]
}
],
"resolve": {"scale": {"x": "independent", "y": "independent", "color": "independent"}, "axis": {"x": "independent", "y": "independent"}}
}
